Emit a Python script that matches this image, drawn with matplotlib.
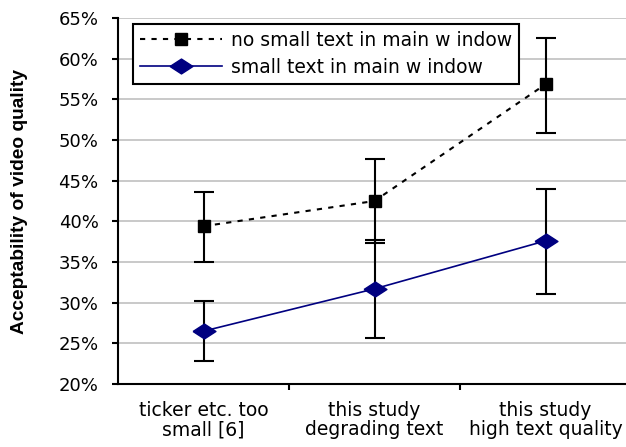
import numpy as np
import matplotlib
matplotlib.use('Agg')
import matplotlib.pyplot as plt

plt.rcParams['font.family'] = ['DejaVu Sans']

# data
categories = ['ticker etc. too\nsmall [6]', 'this study\ndegrading text', 'this study\nhigh text quality']
no_small = [39.4, 42.5, 56.85]
no_small_lo = [35.0, 37.3, 50.8]
no_small_hi = [43.6, 47.7, 62.5]
small = [26.5, 31.7, 37.6]
small_lo = [22.8, 25.7, 31.1]
small_hi = [30.2, 37.7, 44.0]
yticks = [20, 25, 30, 35, 40, 45, 50, 55, 60, 65]

x = np.arange(len(categories))

fig = plt.figure(figsize=(6.26, 4.47), dpi=100)
ax = fig.add_axes([118/626, 1-384/447, 513/626, 366/447])

for t in yticks:
    ax.axhline(t, color='#c0c0c0', lw=1.2, zorder=0)

diamond = [(-1, 0), (0, 0.65), (1, 0), (0, -0.65), (-1, 0)]

e1 = [np.array(no_small) - np.array(no_small_lo), np.array(no_small_hi) - np.array(no_small)]
e2 = [np.array(small) - np.array(small_lo), np.array(small_hi) - np.array(small)]

ax.errorbar(x, no_small, yerr=e1, fmt='none', ecolor='black', elinewidth=1.5, capsize=7, capthick=1.5, zorder=2)
ax.errorbar(x, small, yerr=e2, fmt='none', ecolor='black', elinewidth=1.5, capsize=7, capthick=1.5, zorder=2)

ax.plot(x, no_small, color='black', ls=(0, (2.5, 3)), lw=1.5, marker='s', ms=8.6,
        label='no small text in main w indow', zorder=3)
ax.plot(x, small, color='#000080', ls='-', lw=1.2, marker=diamond, ms=16.5,
        label='small text in main w indow', zorder=3)

ax.set_xlim(-0.5, 2.5)
ax.set_ylim(20, 65)
ax.set_yticks(yticks)
ax.set_yticklabels(['%d%%' % t for t in yticks], fontsize=13)
ax.set_xticks([0.5, 1.5])
ax.set_xticklabels([])
ax.tick_params(axis='x', length=4, width=1.5, direction='out')
ax.tick_params(axis='y', length=4, width=1.5, direction='out', pad=10)
for i, c in enumerate(categories):
    ax.text(i, 17.9, c, ha='center', va='top', fontsize=13.5, linespacing=1.0)

for s in ['top', 'right']:
    ax.spines[s].set_visible(False)
for s in ['left', 'bottom']:
    ax.spines[s].set_linewidth(1.5)

ax.set_ylabel('Acceptability of video quality', fontsize=13.8, fontweight='bold',
              family=['Liberation Sans', 'DejaVu Sans'])
ax.yaxis.set_label_coords(-0.175, 0.5)

leg = ax.legend(loc='upper left', bbox_to_anchor=(15/513, 1-6/366), borderaxespad=0,
                fontsize=13.5, fancybox=False, framealpha=1, edgecolor='black',
                handlelength=4.4, handletextpad=0.5, borderpad=0.35, labelspacing=0.45)
leg.get_frame().set_linewidth(1.5)

fig.savefig('out.png', dpi=100)
